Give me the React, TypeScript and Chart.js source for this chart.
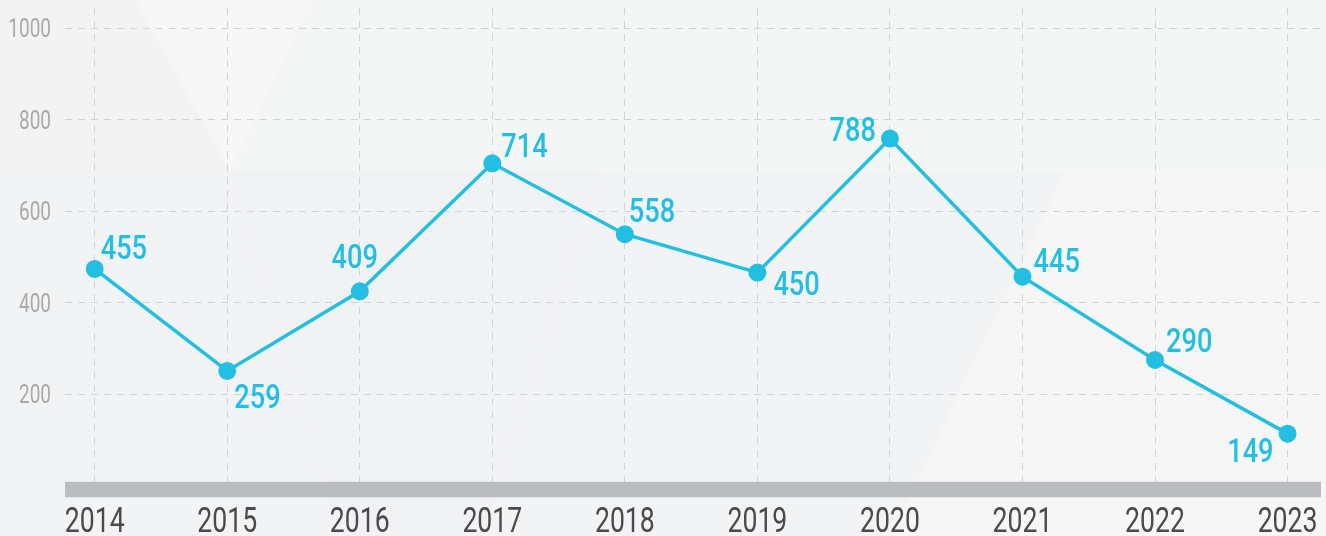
import React, { useEffect, useRef } from "react";
import { Chart, registerables } from "chart.js";

Chart.register(...registerables);

// ---- data ----
const categories = ["2014", "2015", "2016", "2017", "2018", "2019", "2020", "2021", "2022", "2023"];
// vertical position of each marker as drawn on the value axis
const plottedValues = [474, 251, 425, 705, 550, 466, 759, 457, 275, 114];
// number printed next to each marker
const labelValues = [455, 259, 409, 714, 558, 450, 788, 445, 290, 149];
const yTickValues = [200, 400, 600, 800, 1000];

// ---- styles ----
const FONT = "Roboto, 'DejaVu Sans Condensed', 'Noto Sans', sans-serif";
const LINE = "#22bfe2";
const GRID = "#d2d3d5";
// label placement relative to marker centre: [dx, dy(baseline), align]
const LABEL_PLACEMENT: [number, number, CanvasTextAlign][] = [
  [6, -10, "left"],
  [7, 37, "left"],
  [-5, -23, "center"],
  [9, -6, "left"],
  [4, -12, "left"],
  [16, 22, "left"],
  [-14, 2, "right"],
  [11, -5, "left"],
  [11, -8, "left"],
  [-14, 28, "right"],
];

function drawCondensed(
  ctx: CanvasRenderingContext2D,
  text: string,
  x: number,
  y: number,
  align: CanvasTextAlign,
  font: string,
  color: string,
  sx: number
) {
  ctx.save();
  ctx.translate(x, y);
  ctx.scale(sx, 1);
  ctx.font = font;
  ctx.fillStyle = color;
  ctx.textAlign = align;
  ctx.textBaseline = "alphabetic";
  ctx.fillText(text, 0, 0);
  ctx.restore();
}

const backgroundPlugin = {
  id: "bgShapes",
  beforeDraw(chart: any) {
    const { ctx, width, height } = chart;
    ctx.save();
    ctx.fillStyle = "#f2f3f4";
    ctx.fillRect(0, 0, width, height);
    const poly = (pts: number[][], color: string) => {
      ctx.beginPath();
      ctx.moveTo(pts[0][0], pts[0][1]);
      for (let i = 1; i < pts.length; i++) ctx.lineTo(pts[i][0], pts[i][1]);
      ctx.closePath();
      ctx.fillStyle = color;
      ctx.fill();
    };
    poly([[0, 0], [1326, 0], [1326, 171], [0, 171]], "#f4f5f5");
    poly([[135, 0], [312, 0], [230, 171]], "#f7f7f7");
    poly([[0, 0], [135, 0], [230, 171], [0, 171]], "#f3f3f4");
    poly([[230, 171], [600, 171], [480, 536], [340, 536]], "#f1f2f4");
    poly([[1065, 171], [1326, 171], [1326, 536], [890, 536]], "#f6f6f6");
    poly([[600, 171], [1065, 171], [890, 536], [480, 536]], "#f2f3f4");
    ctx.restore();
  },
};

const bandPlugin = {
  id: "axisBand",
  beforeDatasetsDraw(chart: any) {
    const { ctx, chartArea } = chart;
    ctx.save();
    ctx.fillStyle = "#bbbcc0";
    ctx.fillRect(chartArea.left, chartArea.bottom - 4, chartArea.right - 5 - chartArea.left, 15.5);
    ctx.restore();
  },
};

const axisTextPlugin = {
  id: "axisText",
  afterDraw(chart: any) {
    const { ctx } = chart;
    const xs = chart.scales.x;
    const ys = chart.scales.y;
    categories.forEach((c, i) => {
      drawCondensed(ctx, c, xs.getPixelForValue(i), 532, "center", `35px ${FONT}`, "#4a4a4c", 0.76);
    });
    yTickValues.forEach((v) => {
      drawCondensed(ctx, String(v), 51, ys.getPixelForValue(v) + 9, "right", `25px ${FONT}`, "#a9a9ab", 0.76);
    });
  },
};

const labelPlugin = {
  id: "valueLabels",
  afterDatasetsDraw(chart: any) {
    const { ctx } = chart;
    const meta = chart.getDatasetMeta(0);
    meta.data.forEach((pt: any, i: number) => {
      const [dx, dy, align] = LABEL_PLACEMENT[i];
      drawCondensed(ctx, String(labelValues[i]), pt.x + dx, pt.y + dy, align, `500 34px ${FONT}`, LINE, 0.8);
    });
  },
};

export default function App() {
  const ref = useRef<HTMLCanvasElement | null>(null);

  useEffect(() => {
    document.body.style.margin = "0";
    document.body.style.background = "#f2f3f4";
    const canvas = ref.current;
    if (!canvas) return;
    const chart = new Chart(canvas, {
      type: "line",
      data: {
        datasets: [
          {
            data: plottedValues.map((v, i) => ({ x: i, y: v })),
            borderColor: LINE,
            backgroundColor: LINE,
            borderWidth: 3.5,
            pointRadius: 9,
            pointHoverRadius: 9,
            pointBorderWidth: 0,
            pointBackgroundColor: LINE,
            tension: 0,
            clip: false,
          },
        ],
      },
      options: {
        responsive: false,
        animation: false,
        events: [],
        layout: { autoPadding: false, padding: { top: 8, left: 0, right: 0, bottom: 0 } },
        plugins: {
          legend: { display: false },
          tooltip: { enabled: false },
        },
        scales: {
          x: {
            type: "linear",
            min: -0.224,
            max: 9.29,
            afterBuildTicks: (s: any) => {
              s.ticks = categories.map((_, i) => ({ value: i }));
            },
            afterFit: (s: any) => {
              s.height = 50.2;
            },
            grid: { color: GRID, lineWidth: 1, drawTicks: false },
            border: { display: false, dash: [7, 6] },
            ticks: { display: false },
          },
          y: {
            min: 0,
            max: 1044.4,
            afterBuildTicks: (s: any) => {
              s.ticks = yTickValues.map((v) => ({ value: v }));
            },
            afterFit: (s: any) => {
              s.width = 65;
            },
            grid: { color: GRID, lineWidth: 1, drawTicks: false },
            border: { display: false, dash: [7, 6] },
            ticks: { display: false },
          },
        },
      },
      plugins: [backgroundPlugin, bandPlugin, labelPlugin, axisTextPlugin],
    });
    return () => chart.destroy();
  }, []);

  return (
    <div style={{ width: 1326, height: 536 }}>
      <canvas ref={ref} width={1326} height={536} style={{ display: "block" }} />
    </div>
  );
}
